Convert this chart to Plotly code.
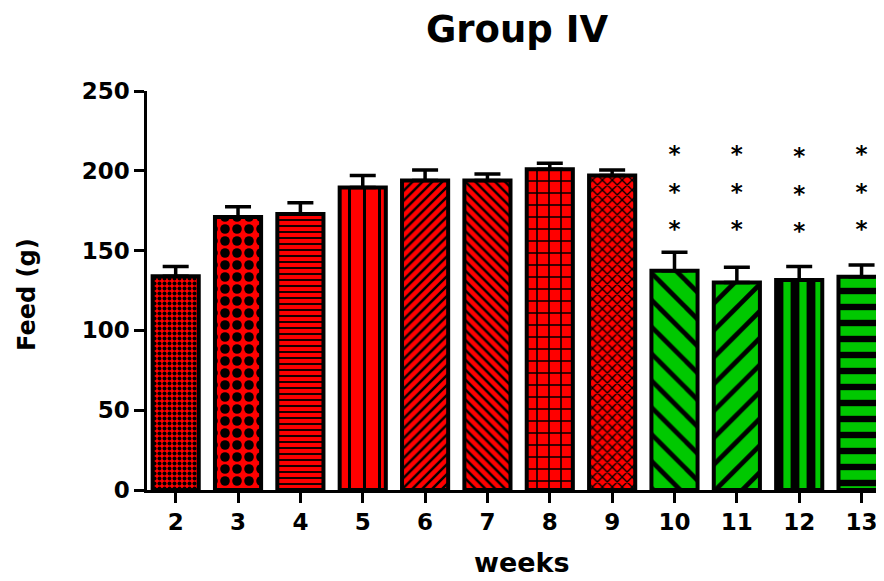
import plotly.graph_objects as go

weeks = [2, 3, 4, 5, 6, 7, 8, 9, 10, 11, 12, 13]
feed = [134, 171, 173, 189.5, 194, 194, 201, 197, 137.4, 130, 131.6, 133.6]
sem = [6, 6.5, 7, 7.5, 6.5, 4, 3.7, 3.5, 11.6, 9.5, 8.4, 7.4]
n_red = 8  # weeks 2-9 red, weeks 10-13 green
group_colors = ["#FF0000", "#00C800"]
shapes = [".", ".", "-", "|", "/", "\\", "+", "x", "\\", "/", "|", "-"]
psizes = [5, 12, 6, 15, 7, 7, 12, 7, 19, 19, 16, 16]
psolid = [0.5, 0.5, 0.3, 0.2, 0.35, 0.35, 0.25, 0.35, 0.25, 0.25, 0.55, 0.4]

star_weeks = [10, 11, 12, 13]
star_levels = [[209, 185, 162], [209, 185, 162], [208, 184, 161], [209, 185, 162]]

y_ticks = [0, 50, 100, 150, 200, 250]

FONT = "DejaVu Sans"
OFF = 8  # default page body margin

fig = go.Figure()
groups = [slice(0, n_red), slice(n_red, len(weeks))]
for g, col in zip(groups, group_colors):
    fig.add_trace(go.Bar(
        x=weeks[g], y=feed[g], width=0.74,
        marker=dict(
            color=col,
            line=dict(color="black", width=4),
            pattern=dict(shape=shapes[g], size=psizes[g], solidity=psolid[g],
                         fgcolor="black", fgopacity=1, fillmode="overlay"),
        ),
        error_y=dict(type="data", symmetric=False, array=sem[g],
                     arrayminus=[0] * len(sem[g]), color="black",
                     thickness=3.5, width=13),
        showlegend=False,
    ))

sx, sy = [], []
for w, levels in zip(star_weeks, star_levels):
    for lv in levels:
        sx.append(w)
        sy.append(lv)
fig.add_trace(go.Scatter(
    x=sx, y=sy, mode="text", text=["*"] * len(sx),
    textposition="middle center",
    textfont=dict(family=FONT, size=23, color="black", weight="bold"),
    showlegend=False,
))

W, H = 884 - OFF, 581 - OFF
fig.update_layout(
    width=W, height=H, barmode="overlay",
    margin=dict(l=147 - OFF, r=0, t=91 - OFF, b=H - (490 - OFF), autoexpand=False),
    plot_bgcolor="white", paper_bgcolor="white",
    title=dict(text="Group IV", x=(517 - OFF) / W, xref="container", xanchor="center",
               y=1 - (29 - OFF) / H, yref="container", yanchor="middle",
               automargin=False,
               font=dict(family=FONT, size=37, color="black", weight="bold")),
    xaxis=dict(
        range=[1.54, 13.36], tickmode="array", tickvals=weeks,
        ticktext=[str(w) for w in weeks], automargin=False,
        showline=True, linecolor="black", linewidth=2.5,
        ticks="outside", ticklen=10, tickwidth=2.5, tickcolor="black",
        showgrid=False, zeroline=False,
        tickfont=dict(family=FONT, size=23, color="black", weight="bold"),
    ),
    yaxis=dict(
        range=[0, 250], tickmode="array", tickvals=y_ticks, automargin=False,
        showline=True, linecolor="black", linewidth=2.5,
        ticks="outside", ticklen=10, tickwidth=2.5, tickcolor="black",
        showgrid=False, zeroline=False,
        tickfont=dict(family=FONT, size=23, color="black", weight="bold"),
    ),
    annotations=[
        dict(text="Feed (g)", textangle=-90, xref="paper", yref="paper",
             x=(27 - 147) / 737, y=(490 - 295) / 399, xanchor="center",
             yanchor="middle", showarrow=False,
             font=dict(family=FONT, size=24, color="black", weight="bold")),
        dict(text="weeks", xref="paper", yref="paper",
             x=(522 - 147) / 737, y=(490 - 562) / 399, xanchor="center",
             yanchor="middle", showarrow=False,
             font=dict(family=FONT, size=27, color="black", weight="bold")),
    ],
)

fig.write_html("out.html")
